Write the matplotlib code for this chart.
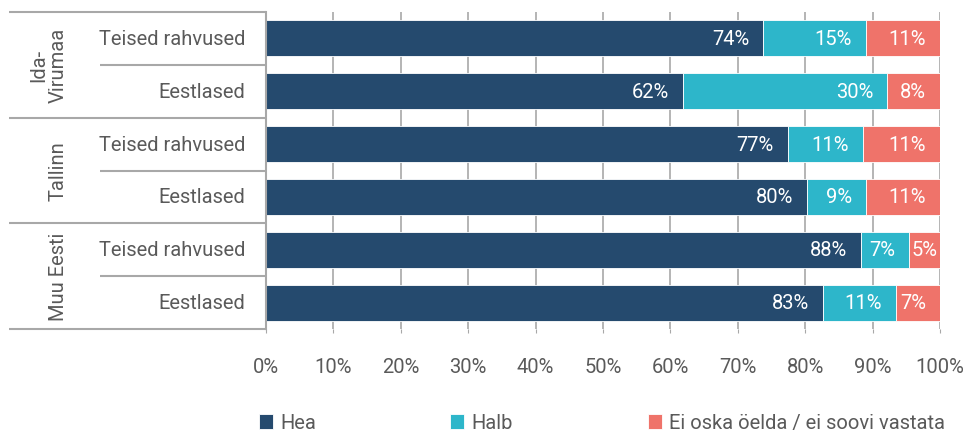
import matplotlib.pyplot as plt
import numpy as np

plt.rcParams['font.family'] = ['Roboto', 'DejaVu Sans']

# shares per row, top to bottom (percent)
groups = ["Ida-\nVirumaa", "Tallinn", "Muu Eesti"]
rows = ["Teised rahvused", "Eestlased"] * 3
hea = [73.8, 61.8, 77.4, 80.3, 88.3, 82.7]
halb = [15.2, 30.4, 11.2, 8.7, 7.1, 10.7]
ei_tea = [11.0, 7.8, 11.4, 11.0, 4.6, 6.6]
series_names = ["Hea", "Halb", "Ei oska öelda / ei soovi vastata"]
colors = ["#254a6e", "#2db6ca", "#ef736a"]
ticks = np.arange(0, 101, 10)

text_col = "#5a5a5a"
line_col = "#a8a8a8"
fs = 14.5

W, H = 964, 435
fig = plt.figure(figsize=(W / 100, H / 100), dpi=100)
ax_l, ax_r, ax_t, ax_b = 266, 940, 13, 330
ax = fig.add_axes([ax_l / W, 1 - ax_b / H, (ax_r - ax_l) / W, (ax_b - ax_t) / H])

def px(x):
    # figure pixel -> axes fraction along x
    return (x - ax_l) / (ax_r - ax_l)

y = np.arange(len(rows))
left = np.zeros(len(rows))
containers = []
for vals, col, name in zip([hea, halb, ei_tea], colors, series_names):
    vals = np.array(vals)
    bars = ax.barh(y, vals, left=left, height=0.68, color=col, label=name,
                   edgecolor="white", linewidth=0.6, zorder=3)
    containers.append(bars)
    for yi, l, v in zip(y, left, vals):
        # narrow segments get less right padding so the label still fits
        off = -10 if v >= 6 else -2
        ax.annotate(f"{round(v):d}%", xy=(l + v, yi), xytext=(off, 0),
                    textcoords="offset points", ha="right", va="center",
                    color="white", fontsize=fs, zorder=4)
    left = left + vals

ax.set_xlim(0, 100)
ax.set_ylim(len(rows) - 0.5, -0.5)
ax.set_xticks(ticks)
ax.set_xticklabels([f"{t}%" for t in ticks], color=text_col, fontsize=fs)
ax.set_yticks([])
ax.tick_params(axis="x", length=3, color=line_col, pad=17)
ax.grid(axis="x", color=line_col, linewidth=1.2, zorder=0)
for s in ["top", "right", "bottom"]:
    ax.spines[s].set_visible(False)
ax.spines["left"].set_color(line_col)
ax.spines["left"].set_linewidth(1.5)
ax.spines["left"].set_zorder(5)

ytr = ax.get_yaxis_transform()

# row labels
for yi, name in zip(y, rows):
    ax.text(px(245), yi, name, transform=ytr, ha="right", va="center",
            color=text_col, fontsize=fs)

# separators between rows and groups
for b in np.arange(-0.5, len(rows), 1.0):
    x0 = px(9) if (b + 0.5) % 2 == 0 else px(100)
    ax.plot([x0, 0], [b, b], transform=ytr, color=line_col, linewidth=1.5,
            clip_on=False, solid_capstyle="butt")

# group labels
for gi, g in enumerate(groups):
    ax.text(px(68), gi * 2 + 0.5, g, transform=ytr, rotation=90,
            ha="right", va="center", multialignment="center",
            color=text_col, fontsize=fs, linespacing=1.05)

# legend entries spread along the bottom
for bars, xpos in zip(containers, [259, 450, 648]):
    fig.legend([bars], [bars.get_label()], loc="center left",
               bbox_to_anchor=(xpos / W, 1 - 424 / H), frameon=False,
               fontsize=fs, labelcolor=text_col, handlelength=0.7,
               handleheight=0.7, handletextpad=0.35, borderpad=0,
               borderaxespad=0)

fig.savefig("out.png", dpi=100)
